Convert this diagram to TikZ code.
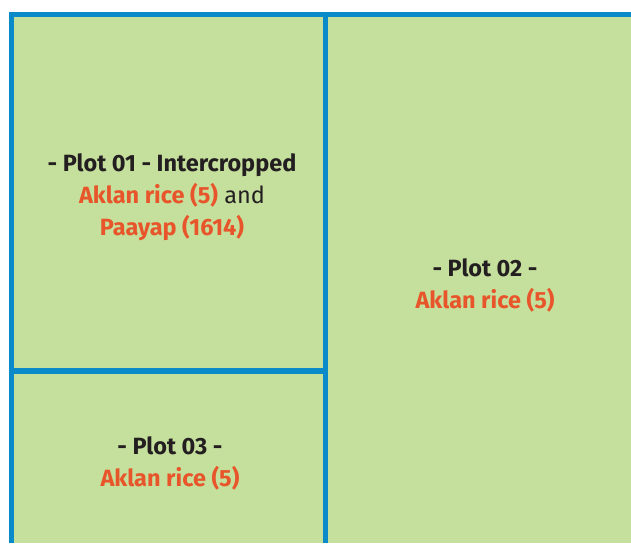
\documentclass[tikz,border=0pt]{standalone}
\usepackage{fontspec}
\setmainfont{Fira Sans}
\usepackage{xcolor}
\usetikzlibrary{positioning}
\definecolor{plotgreen}{HTML}{C5DF9C}
\definecolor{plotblue}{HTML}{0A8AC8}
\definecolor{riceorange}{HTML}{E8552B}
\definecolor{labeldark}{HTML}{231F20}

\begin{document}
\begin{tikzpicture}[
    x=1pt, y=-1pt,
    font=\fontsize{23.5}{32}\selectfont,
    border/.style={draw=plotblue, line width=5.5pt},
    plotlabel/.style={align=center, text=labeldark, inner sep=0pt}
]
\useasboundingbox (0,0) rectangle (631,543);

\fill[plotgreen] (11.5,14.5) rectangle (631,543);

\coordinate (topleft) at (9,14.5);
\coordinate (topright) at (631,14.5);
\coordinate (leftbottom) at (11.5,543);
\coordinate (midtop) at (325.5,17);
\coordinate (midbottom) at (325.5,543);
\coordinate (splitleft) at (11.5,371);
\coordinate (splitright) at (325.5,371);

\draw[border] (topleft) -- (topright);
\draw[border] (11.5,12) -- (leftbottom);
\draw[border] (midtop) -- (midbottom);
\draw[border] (splitleft) -- (splitright);

\node[plotlabel] (plot01) at (172,197) {\textbf{- Plot 01 - Intercropped}\\\textcolor{riceorange}{\textbf{Aklan rice (5)}} and\\\textcolor{riceorange}{\textbf{Paayap (1614)}}};
\node[plotlabel] (plot02) at (485,285.5) {\textbf{- Plot 02 -}\\\textcolor{riceorange}{\textbf{Aklan rice (5)}}};
\node[plotlabel] (plot03) at (170,463.5) {\textbf{- Plot 03 -}\\\textcolor{riceorange}{\textbf{Aklan rice (5)}}};

\end{tikzpicture}
\end{document}
